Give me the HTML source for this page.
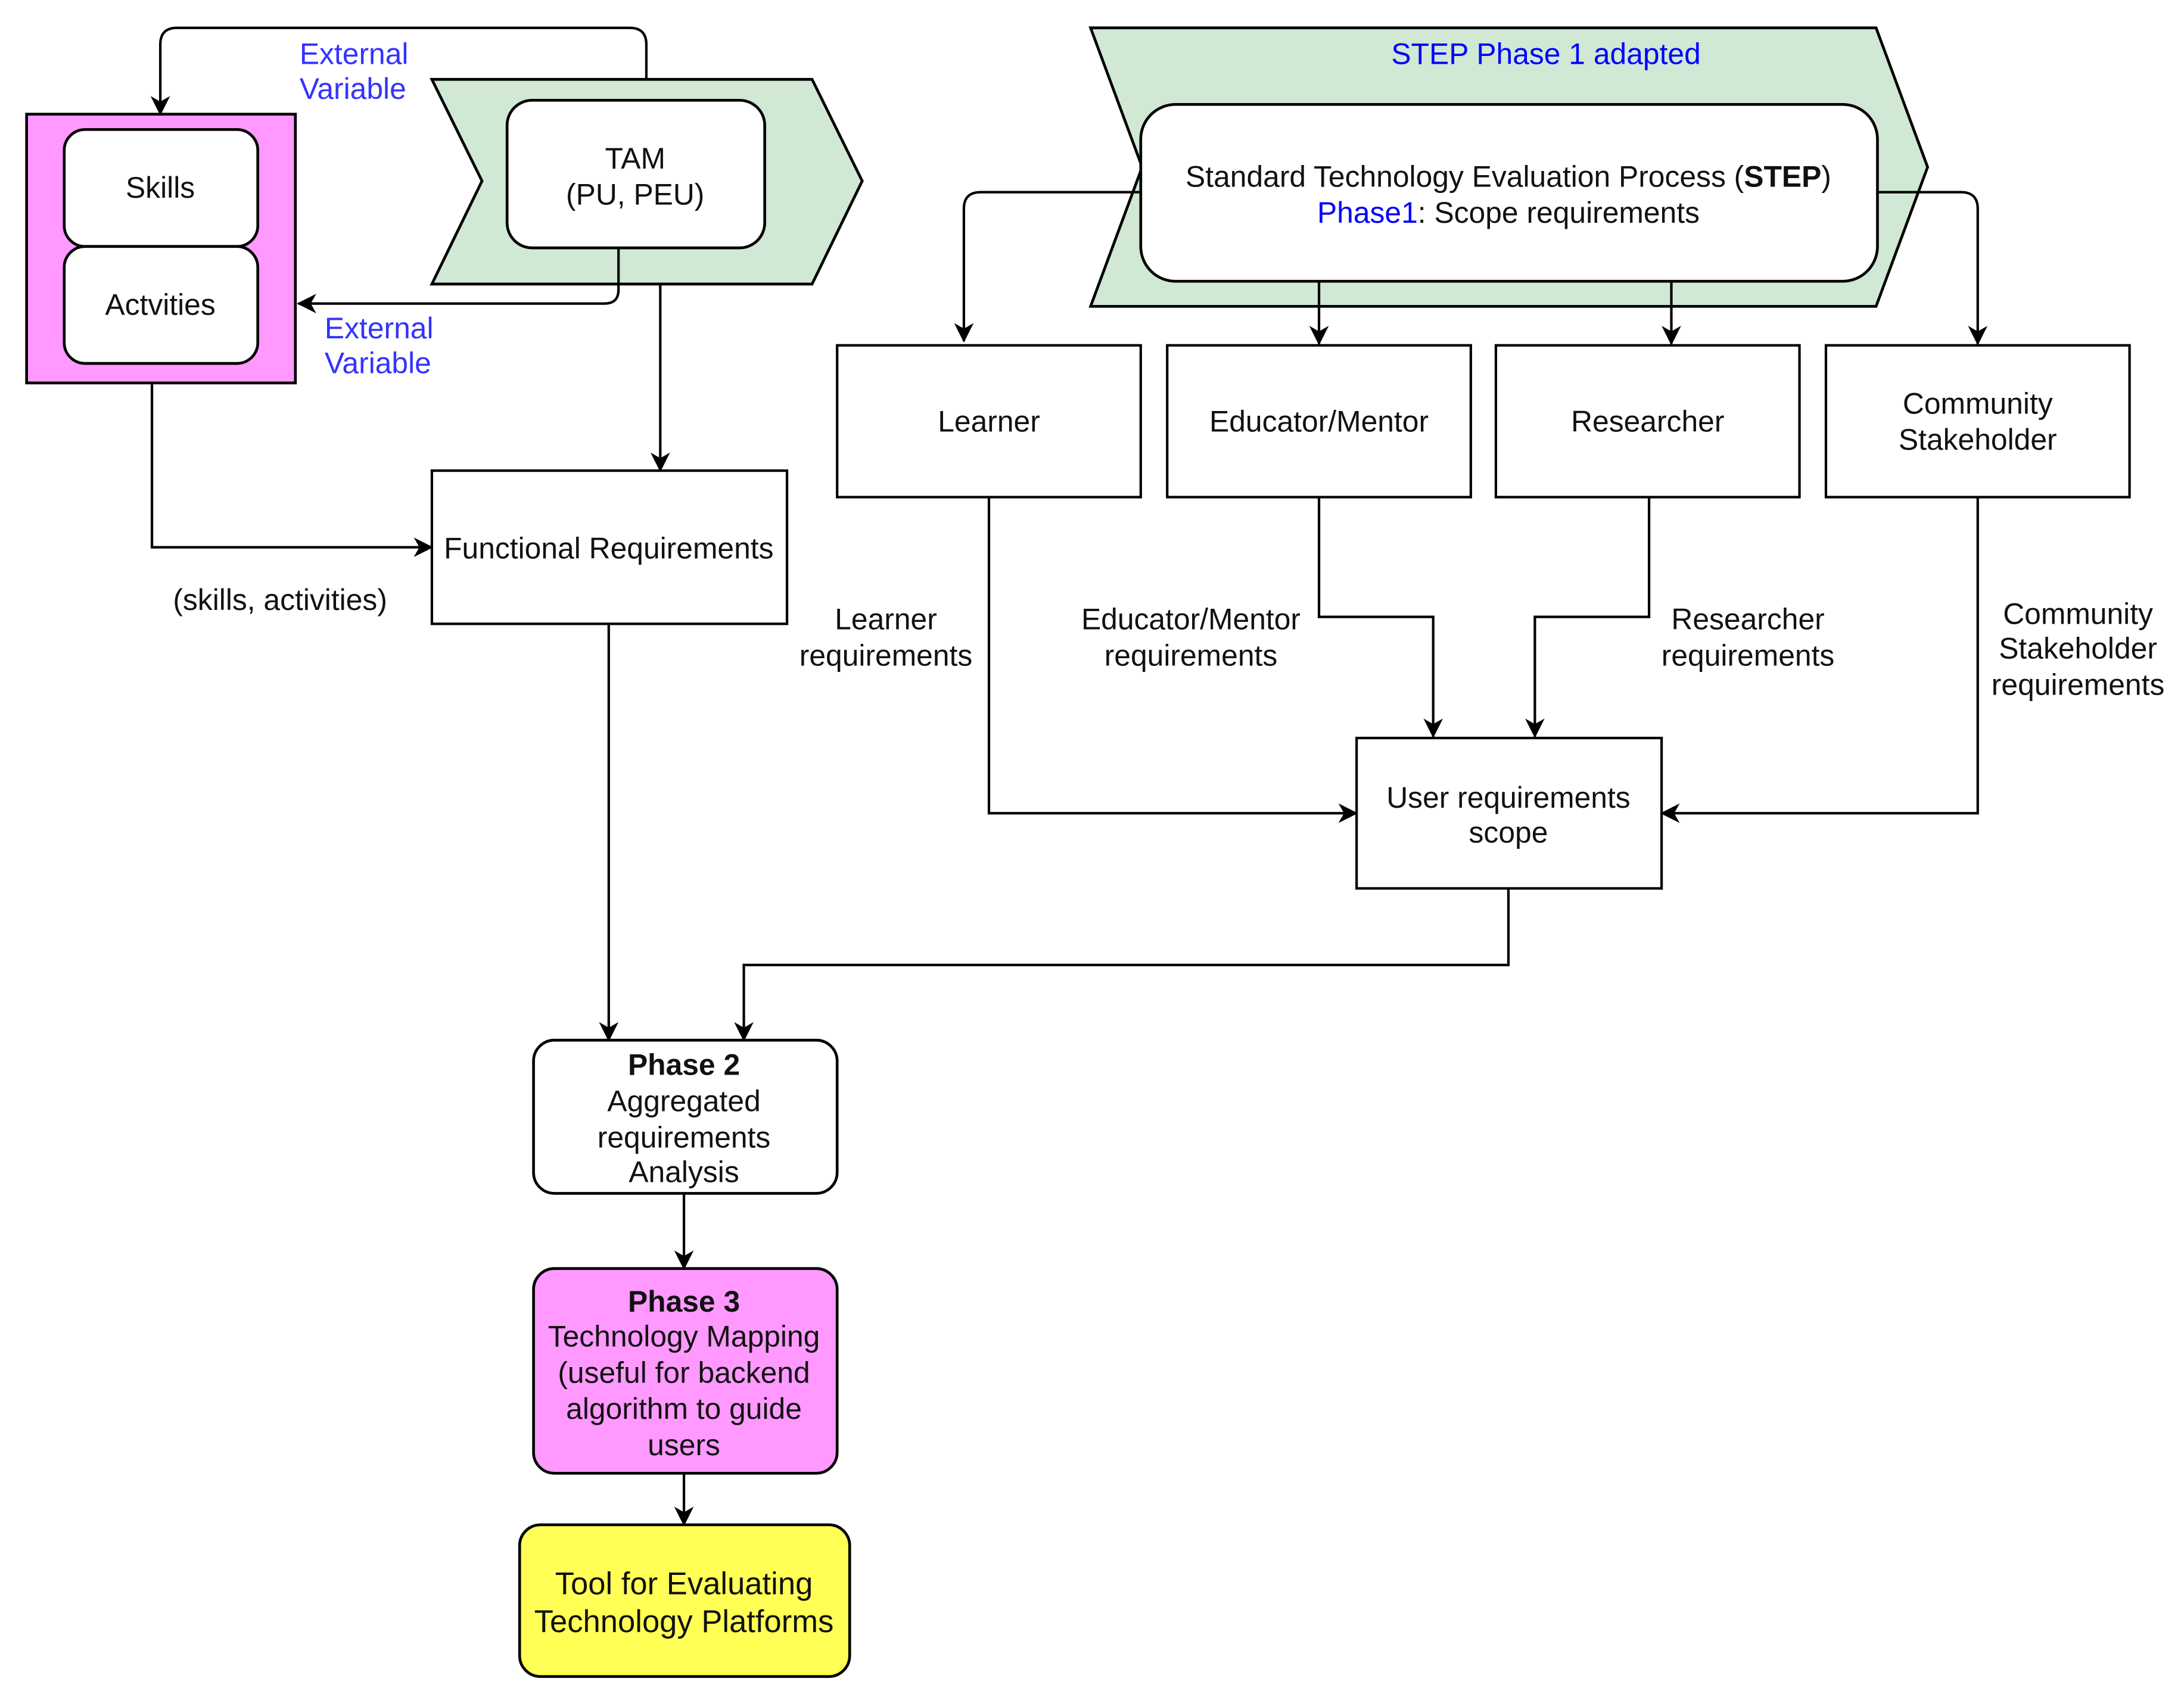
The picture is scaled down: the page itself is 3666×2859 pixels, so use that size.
<!DOCTYPE html>
<html><head><meta charset="utf-8"><style>
html,body{margin:0;padding:0;background:#fff;}
svg{display:block;}
text{font-family:"Liberation Sans",Arial,sans-serif;font-size:21.3px;fill:#111;}
.b{fill:#3333ff;}
</style></head><body>
<svg width="3666" height="2859" viewBox="0 0 1568 1223" xmlns="http://www.w3.org/2000/svg">
<defs>
<marker id="a" markerWidth="16" markerHeight="16" refX="13" refY="7" orient="auto" markerUnits="userSpaceOnUse">
<path d="M0,0 L14,7 L0,14 L4,7 Z" fill="#000"/>
</marker>
</defs>
<rect width="1568" height="1223" fill="#fff"/>
<g fill="none" stroke="#000" stroke-width="1.8">
<path d="M464,57 V32 Q464,20 452,20 H127 Q115,20 115,32 V82" marker-end="url(#a)"/>
<path d="M444,178 V208 Q444,218 434,218 H214" marker-end="url(#a)"/>
<path d="M474,204 V338" marker-end="url(#a)"/>
<path d="M109,275 V393 H310" marker-end="url(#a)"/>
<path d="M437,448 V747" marker-end="url(#a)"/>
<path d="M491,857 V911" marker-end="url(#a)"/>
<path d="M491,1058 V1095" marker-end="url(#a)"/>
<path d="M1083,638 V693 H534 V747" marker-end="url(#a)"/>
</g>
<rect x="19" y="82" width="193" height="193" fill="#ff99ff" stroke="#000" stroke-width="2"/>
<rect x="46" y="93" width="139" height="84" rx="15" fill="#fff" stroke="#000" stroke-width="2"/>
<rect x="46" y="177" width="139" height="84" rx="15" fill="#fff" stroke="#000" stroke-width="2"/>
<text x="115" y="142" text-anchor="middle">Skills</text>
<text x="115" y="226" text-anchor="middle">Actvities</text>
<polygon points="310,57 583,57 619,130 583,204 310,204 346,130" fill="#d0e8d4" stroke="#000" stroke-width="2"/>
<rect x="364" y="72" width="185" height="106" rx="18" fill="#fff" stroke="#000" stroke-width="2"/>
<text x="456" y="121" text-anchor="middle">TAM</text>
<text x="456" y="147" text-anchor="middle">(PU, PEU)</text>
<line x1="444" y1="178" x2="444" y2="204" stroke="#000" stroke-width="1.8"/>
<text x="215" y="46" class="b">External</text>
<text x="215" y="71" class="b">Variable</text>
<text x="233" y="243" class="b">External</text>
<text x="233" y="268" class="b">Variable</text>
<rect x="310" y="338" width="255" height="110" fill="#fff" stroke="#000" stroke-width="1.8"/>
<text x="437" y="401" text-anchor="middle">Functional Requirements</text>
<text x="201" y="438" text-anchor="middle">(skills, activities)</text>
<rect x="383" y="747" width="218" height="110" rx="15" fill="#fff" stroke="#000" stroke-width="2"/>
<text x="491" y="772" text-anchor="middle" font-weight="bold">Phase 2</text>
<text x="491" y="798" text-anchor="middle">Aggregated</text>
<text x="491" y="824" text-anchor="middle">requirements</text>
<text x="491" y="849" text-anchor="middle">Analysis</text>
<rect x="383" y="911" width="218" height="147" rx="15" fill="#ff99ff" stroke="#000" stroke-width="2"/>
<text x="491" y="942" text-anchor="middle" font-weight="bold">Phase 3</text>
<text x="491" y="967" text-anchor="middle">Technology Mapping</text>
<text x="491" y="993" text-anchor="middle">(useful for backend</text>
<text x="491" y="1019" text-anchor="middle">algorithm to guide</text>
<text x="491" y="1045" text-anchor="middle">users</text>
<rect x="373" y="1095" width="237" height="109" rx="15" fill="#ffff55" stroke="#000" stroke-width="2"/>
<text x="491" y="1145" text-anchor="middle" style="font-size:22.5px">Tool for Evaluating</text>
<text x="491" y="1172" text-anchor="middle" style="font-size:22.5px">Technology Platforms</text>
<polygon points="783,20 1347,20 1384,120 1347,220 783,220 820,120" fill="#d0e8d4" stroke="#000" stroke-width="2"/>
<text x="1110" y="46" text-anchor="middle" style="fill:#0000ff">STEP Phase 1 adapted</text>
<g fill="none" stroke="#000" stroke-width="1.8">
<path d="M819,138 H704 Q692,138 692,150 V245" marker-end="url(#a)"/>
<path d="M1348,138 H1408 Q1420,138 1420,150 V247" marker-end="url(#a)"/>
<path d="M947,202 V247" marker-end="url(#a)"/>
<path d="M1200,202 V247" marker-end="url(#a)"/>
</g>
<rect x="819" y="75" width="529" height="127" rx="25" fill="#fff" stroke="#000" stroke-width="2"/>
<text x="1083" y="134" text-anchor="middle">Standard Technology Evaluation Process (<tspan font-weight="bold">STEP</tspan>)</text>
<text x="1083" y="160" text-anchor="middle"><tspan style="fill:#0000ff">Phase1</tspan>: Scope requirements</text>
<g fill="#fff" stroke="#000" stroke-width="1.8">
<rect x="601" y="248" width="218" height="109"/>
<rect x="838" y="248" width="218" height="109"/>
<rect x="1074" y="248" width="218" height="109"/>
<rect x="1311" y="248" width="218" height="109"/>
<rect x="974" y="530" width="219" height="108"/>
</g>
<text x="710" y="310" text-anchor="middle">Learner</text>
<text x="947" y="310" text-anchor="middle">Educator/Mentor</text>
<text x="1183" y="310" text-anchor="middle">Researcher</text>
<text x="1420" y="297" text-anchor="middle">Community</text>
<text x="1420" y="323" text-anchor="middle">Stakeholder</text>
<text x="1083" y="580" text-anchor="middle">User requirements</text>
<text x="1083" y="605" text-anchor="middle">scope</text>
<g fill="none" stroke="#000" stroke-width="1.8">
<path d="M710,357 V584 H974" marker-end="url(#a)"/>
<path d="M947,357 V443 H1029 V529" marker-end="url(#a)"/>
<path d="M1184,357 V443 H1102 V529" marker-end="url(#a)"/>
<path d="M1420,357 V584 H1193" marker-end="url(#a)"/>
</g>
<text x="636" y="452" text-anchor="middle">Learner</text>
<text x="636" y="478" text-anchor="middle">requirements</text>
<text x="855" y="452" text-anchor="middle">Educator/Mentor</text>
<text x="855" y="478" text-anchor="middle">requirements</text>
<text x="1255" y="452" text-anchor="middle">Researcher</text>
<text x="1255" y="478" text-anchor="middle">requirements</text>
<text x="1492" y="448" text-anchor="middle">Community</text>
<text x="1492" y="473" text-anchor="middle">Stakeholder</text>
<text x="1492" y="499" text-anchor="middle">requirements</text>
</svg>
</body></html>
